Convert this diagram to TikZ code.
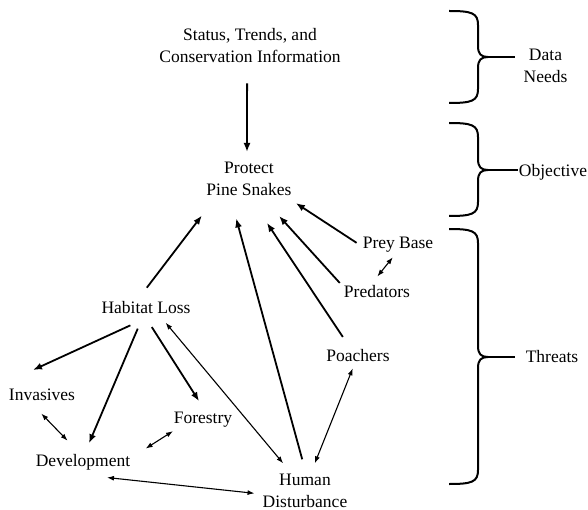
\documentclass[tikz,border=0pt]{standalone}
\usepackage{fontspec}
\setmainfont{Liberation Serif}
\usetikzlibrary{arrows.meta}

\begin{document}
\begin{tikzpicture}[x=1pt, y=-1pt,
	every node/.style={inner sep=6pt, align=center, font=\fontsize{17.5}{22}\selectfont},
	arr/.style={line width=1.8pt, -{Latex[length=9pt,width=7pt]}},
	both/.style={line width=1.1pt, {Latex[length=7pt,width=5pt]}-{Latex[length=7pt,width=5pt]}},
	brace/.style={line width=2pt}]

	% ---- frame

	\useasboundingbox (0,0) rectangle (588,510);

	% ---- nodes

	\node (status)      at (250,46)    {Status, Trends, and\\Conservation Information};
	\node (protect)     at (249,179)   {Protect\\Pine Snakes};
	\node (prey)        at (398,245)   {Prey Base};
	\node (predators)   at (377,292)   {Predators};
	\node (habitat)     at (146,308)   {Habitat Loss};
	\node (poachers)    at (358,356)   {Poachers};
	\node (invasives)   at (42,395)    {Invasives};
	\node (forestry)    at (203,420)   {Forestry};
	\node (development) at (83,462)    {Development};
	\node (human)       at (305,491)   {Human\\Disturbance};

	% ---- brace labels

	\node (needs)     at (545.5,66) {Data\\Needs};
	\node (objective) at (553,172)  {Objective};
	\node (threats)   at (552,357)  {Threats};

	% ---- braces

	\foreach \top/\tip/\bot/\tail in {11/57/103/515, 123/170/216/518, 229/357/484/515} {
		\draw[brace] (449,\top) .. controls (472,\top) and (478,\top+2) .. (478,\top+14)
			-- (478,\tip-11) .. controls (478,\tip-3) and (481,\tip) .. (488,\tip)
			.. controls (481,\tip) and (478,\tip+3) .. (478,\tip+11)
			-- (478,\bot-14) .. controls (478,\bot-2) and (472,\bot) .. (449,\bot);
		\draw[brace] (486,\tip) -- (\tail,\tip);
	}

	% ---- arrows to the objective

	\draw[arr, shorten <=14pt, shorten >=4pt] (status.-97) -- (protect.95);
	\draw[arr, shorten >=2pt] (prey.177) -- (protect.-27);
	\draw[arr, shorten <=-3pt, shorten >=19pt] (predators.164) -- (protect.-53);
	\draw[arr, shorten <=8pt, shorten >=25pt] (poachers.131) -- (protect.-80);
	\draw[arr, shorten <=9pt, shorten >=17pt] (human.91) -- (protect.-127);
	\draw[arr, shorten <=10pt, shorten >=17pt] (habitat.113) -- (protect.-148);

	% ---- habitat loss

	\draw[arr, shorten <=12pt, shorten >=31pt] (habitat.-111) -- (invasives.162);
	\draw[arr, shorten <=9pt, shorten >=5pt] (habitat.-111) -- (development.74);
	\draw[arr, shorten <=8pt, shorten >=6pt] (habitat.-83) -- (forestry.93);

	% ---- two-way links

	\draw[both, shorten <=3pt, shorten >=6pt] (habitat.-35) -- (human.128);
	\draw[both, shorten <=-2pt, shorten >=4pt] (prey.-115) -- (predators.100);
	\draw[both, shorten <=9pt, shorten >=10pt] (invasives.-120) -- (development.121);
	\draw[both, shorten <=-5pt, shorten >=11pt] (forestry.-158) -- (development.8);
	\draw[both, shorten <=13pt, shorten >=2pt] (development.-52) -- (human.-177);
	\draw[both, shorten >=5pt] (poachers.-113) -- (human.71);

\end{tikzpicture}
\end{document}
